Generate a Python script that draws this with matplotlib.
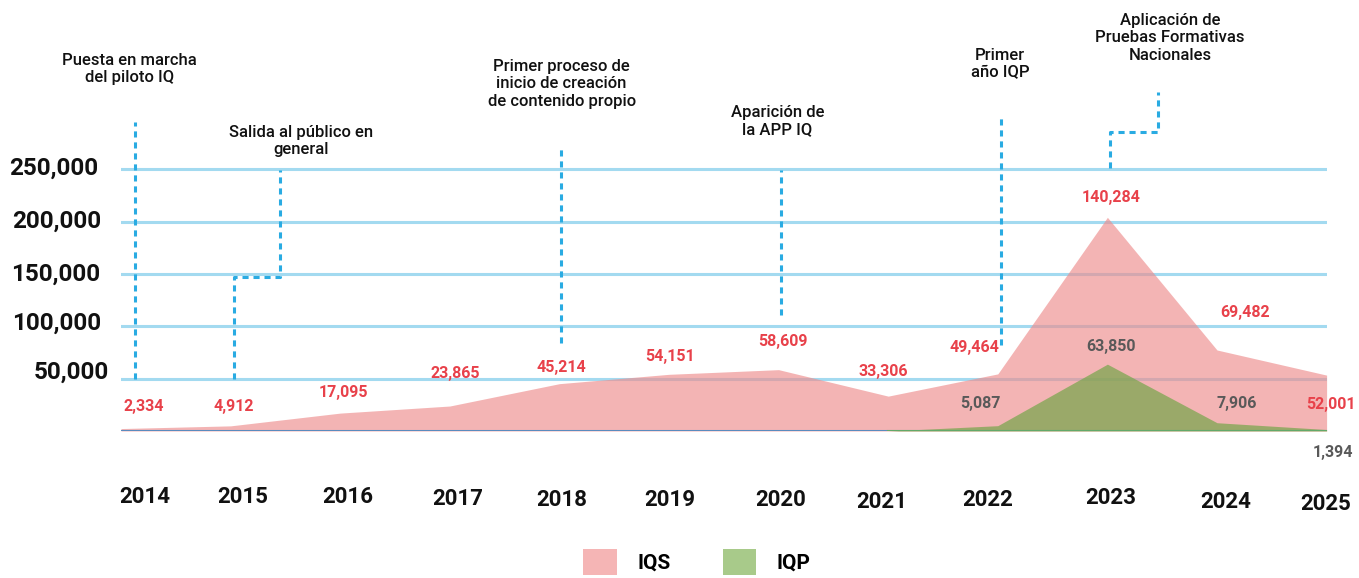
import numpy as np
import matplotlib
matplotlib.use("Agg")
import matplotlib.pyplot as plt
from matplotlib.patches import Patch
from matplotlib.transforms import ScaledTranslation

plt.rcParams['font.family'] = ['Roboto', 'DejaVu Sans']

# data
years = ['2014', '2015', '2016', '2017', '2018', '2019', '2020', '2021', '2022', '2023', '2024', '2025']
iqs = [2334, 4912, 17095, 23865, 45214, 54151, 58609, 33306, 49464, 140284, 69482, 52001]
iqp = [np.nan] * 7 + [0, 5087, 63850, 7906, 1394]
iqp_labels = ['', '', '', '', '', '', '', '', '5,087', '63,850', '7,906', '1,394']
ytick_vals = [50000, 100000, 150000, 200000, 250000]
ytick_labels = ['50,000', '100,000', '150,000', '200,000', '250,000']

# hitos (texto, x del texto, fila del texto en px)
hitos = [
    ("Puesta en marcha\ndel piloto IQ", 0.08, 69),
    ("Salida al público en\ngeneral", 1.64, 141),
    ("Primer proceso de\ninicio de creación\nde contenido propio", 4.02, 84),
    ("Aparición de\nla APP IQ", 5.99, 121),
    ("Primer\naño IQP", 8.02, 64),
    ("Aplicación de\nPruebas Formativas\nNacionales", 9.57, 38),
]

x = np.arange(len(years))
iqs = np.array(iqs, dtype=float)
iqp = np.array(iqp, dtype=float)
total = iqs + np.nan_to_num(iqp)

fig = plt.figure(figsize=(13.59, 5.78), dpi=100)
ax = fig.add_axes([121 / 1359, 1 - 431 / 578, (1326.6 - 121) / 1359, 431 / 578])
ax.set_xlim(0, 11)
ylim_top = 431 / 261.7 * 250000
ax.set_ylim(0, ylim_top)

def py(pix):
    # fila de pixel -> valor en el eje
    return (431 - pix) / 261.7 * 250000

def px(pix):
    return (pix - 121) / 109.6

# grid
for v in ytick_vals:
    ax.axhline(v, color='#A3DAF0', lw=2.2, zorder=1)

ax.fill_between(x, 0, total, color='#EE8C8C', alpha=0.65, lw=0, zorder=2)
ax.fill_between(x, 0, iqp, color='#78A64C', alpha=0.72, lw=0, zorder=3)
ax.axhline(0, color='#5B8BBE', lw=2.2, zorder=4)
ok = ~np.isnan(iqp)
ax.plot(x[ok], np.zeros(ok.sum()), color='#62A96A', lw=2.2, zorder=5)

for s in ax.spines.values():
    s.set_visible(False)
ax.set_xticks([])
ax.set_yticks(ytick_vals)
ax.set_yticklabels(ytick_labels, fontsize=17.5, fontweight='bold', color='#111111')
ax.tick_params(axis='y', length=0, pad=14)
ytl_dx = [7, 0, -1, 0, -3]
ytl_dy = [9, 6, 2, 3, 4]
for lab, dx, dy in zip(ax.get_yticklabels(), ytl_dx, ytl_dy):
    lab.set_transform(lab.get_transform() + ScaledTranslation(dx / 100, dy / 100, fig.dpi_scale_trans))

# years
yr_dx = [24, 12, 8, 8, 2, 1, 2, -6, -10, 3, 9, -1]
yr_dy = [-66, -66, -66, -68, -69, -69, -69, -71, -69, -67, -71, -73]
for i, yr in enumerate(years):
    ax.annotate(yr, (x[i], 0), xytext=(yr_dx[i], yr_dy[i]), textcoords='offset pixels',
                ha='center', va='center', fontsize=16, fontweight='bold', color='#111111',
                annotation_clip=False)

# etiquetas IQS
lab_dx = [23, 3, 3, 5, 2, 1, 4, -5, -23, 4, 28, 4]
lab_dy = [22, 19, 21, 33, 16, 18, 28, 25, 26, 20, 37, -29]
for i, v in enumerate(iqs):
    ax.annotate(f"{int(v):,}", (x[i], total[i]), xytext=(lab_dx[i], lab_dy[i]),
                textcoords='offset pixels', ha='center', va='center', fontsize=11.5,
                fontweight='bold', color='#E8414A', zorder=6, annotation_clip=False)

# etiquetas IQP
p_dx = [0] * 8 + [-17, 4, 20, 6]
p_dy = [0] * 8 + [22, 18, 19, -23]
for i, t in enumerate(iqp_labels):
    if t:
        ax.annotate(t, (x[i], iqp[i]), xytext=(p_dx[i], p_dy[i]),
                    textcoords='offset pixels', ha='center', va='center', fontsize=11.5,
                    fontweight='bold', color='#595959', zorder=6, annotation_clip=False)

# lineas de hitos
dash = dict(color='#29ABE2', lw=2.2, linestyle=(0, (2, 1.6)), zorder=1.5, solid_capstyle='butt')
ax.plot([px(135), px(135)], [py(379), py(122)], **dash)
ax.plot([px(234), px(234), px(280), px(280)], [py(379), py(277), py(277), py(170)], **dash)
ax.plot([px(561), px(561)], [py(343), py(147)], **dash)
ax.plot([px(781), px(781)], [py(315), py(170)], **dash)
ax.plot([px(1001), px(1001)], [py(345), py(115)], **dash)
ax.plot([px(1110), px(1110), px(1158), px(1158)], [py(168), py(132), py(132), py(92)], **dash)

for txt, xc, yc in hitos:
    ax.text(xc, py(yc), txt, ha='center', va='center', fontsize=12, fontweight='medium',
            color='#111111', linespacing=1.2, multialignment='center', clip_on=False)

# leyenda
handles = [Patch(facecolor='#F5B5B5', edgecolor='none', label='IQS'),
           Patch(facecolor='#A8CA8A', edgecolor='none', label='IQP')]
leg = fig.legend(handles=handles, loc='center', bbox_to_anchor=(697 / 1359, 1 - 562 / 578),
                 ncol=2, frameon=False, prop={'size': 15, 'weight': 'bold'},
                 handlelength=1.6, handleheight=1.6, handletextpad=1.0, columnspacing=2.5,
                 borderpad=0)

fig.savefig('out.png', dpi=100)
